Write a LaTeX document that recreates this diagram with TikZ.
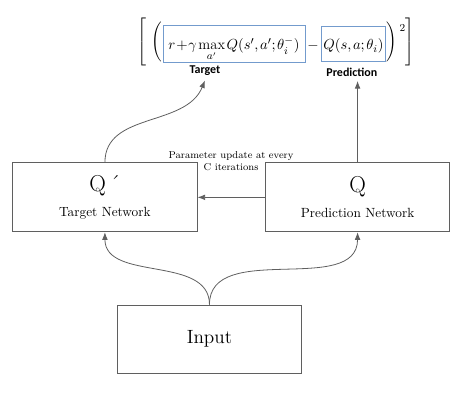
\documentclass[tikz,border=0pt]{standalone}
\usepackage{amsmath}
\usepackage{fontspec}
\newfontfamily\lblfont{Carlito}
\usetikzlibrary{arrows.meta, positioning}
\definecolor{linegray}{RGB}{95,95,95}
\definecolor{qblue}{RGB}{115,155,205}

\begin{document}
\begin{tikzpicture}[
            node distance=0.5cm and 0.5cm,
            netbox/.style={rectangle, draw=linegray, semithick, minimum width=4.87cm, minimum height=1.82cm, align=center},
            qbox/.style={rectangle, draw=qblue, thin, inner sep=2pt, text height=16.7pt, text depth=7pt, font=\fontsize{11}{13}\selectfont},
            delim/.style={inner sep=0pt, font=\fontsize{10}{12}\selectfont},
            arrow/.style={-Latex, linegray, semithick},
            label/.style={font=\lblfont\bfseries\fontsize{9}{10}\selectfont}
        ]
            \useasboundingbox (0,0) rectangle (12.25,10.82);
            % networks
            \node[netbox] (TgtNet) at (2.77,5.61) {{\LARGE Q\,´}\\[7pt]Target Network};
            \node[netbox] (PredNet) at (9.44,5.61) {{\LARGE Q}\\[7pt]Prediction Network};
            \node[netbox, minimum height=1.80cm] (Input) at (5.53,1.87) {\Large Input};
            \node[align=center, font=\fontsize{7.5}{9}\selectfont] (upd) at (6.10,6.57) {Parameter update at every\\C iterations};

            % loss term
            \node[qbox, anchor=base west, inner xsep=4pt] (tgtq) at (4.30,9.50) {$\medmuskip=1mu\thinmuskip=2mu r+\gamma\max\limits_{a'}Q(s',a';\theta_i^-)$};
            \node[delim, base right=1.5pt of tgtq, font=\fontsize{11}{13}\selectfont] (minus) {$-$};
            \node[qbox, base right=1.5pt of minus, inner sep=1.5pt] (predq) {$\thinmuskip=2mu Q(s,a;\theta_i)$};
            \node[delim, left=0.5pt of tgtq, yshift=1pt] (lpar) {$\Bigg($};
            \node[delim, left=2pt of lpar] (lbr) {$\left[\vrule height 20.5pt depth 15.5pt width 0pt\right.$};
            \node[delim, right=0.5pt of predq, yshift=1pt] (rpar) {$\Bigg)$};
            \node[delim, right=5pt of rpar] (rbr) {$\left.\vrule height 20.5pt depth 15.5pt width 0pt\right]$};
            \node[delim, font=\footnotesize, anchor=north west] (sq) at ([xshift=1.5pt, yshift=-1.5pt]rpar.north east) {$2$};
            \node[label] (TgtLbl) at (5.41,8.95) {Target};
            \node[label] (PredLbl) at (9.29,8.92) {Prediction};

            % connectors
            \draw[arrow] (PredNet.west) -- (TgtNet.east);
            \draw[arrow] (Input.north) to[out=90, in=-90] (TgtNet.south);
            \draw[arrow] (Input.north) to[out=90, in=-90] (PredNet.south);
            \draw[arrow] (TgtNet.north) to[out=90, in=-112] (TgtLbl.south);
            \draw[arrow] (PredNet.north) -- (PredNet.north |- PredLbl.south);
        \end{tikzpicture}
\end{document}
